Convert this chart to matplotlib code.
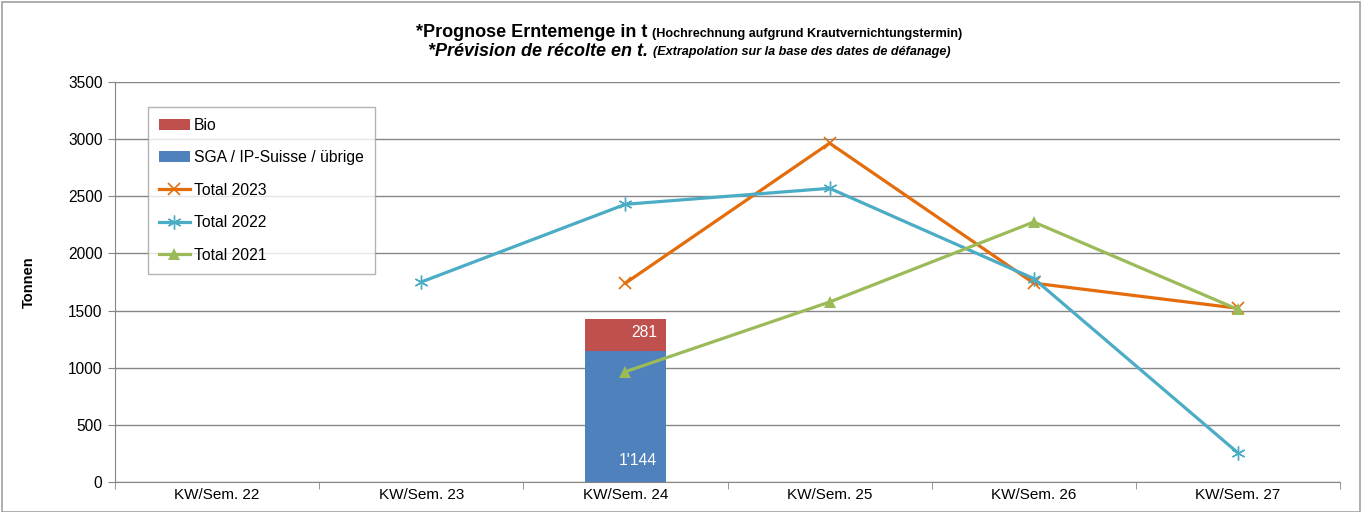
import matplotlib
matplotlib.use("Agg")
import matplotlib.pyplot as plt
import numpy as np
from matplotlib.patches import Rectangle
from matplotlib.ticker import FixedLocator

plt.rcParams['font.family'] = ['Liberation Sans', 'DejaVu Sans']

categories = ["KW/Sem. 22", "KW/Sem. 23", "KW/Sem. 24", "KW/Sem. 25", "KW/Sem. 26", "KW/Sem. 27"]
sga = [np.nan, np.nan, 1144, np.nan, np.nan, np.nan]
bio = [np.nan, np.nan, 281, np.nan, np.nan, np.nan]
total_2023 = [np.nan, np.nan, 1740, 2965, 1740, 1520]
total_2022 = [np.nan, 1750, 2430, 2570, 1780, 255]
total_2021 = [np.nan, np.nan, 965, 1575, 2275, 1510]
yticks = [0, 500, 1000, 1500, 2000, 2500, 3000, 3500]

c_bio = '#C0504D'
c_sga = '#4F81BD'
c_23 = '#E46C0A'
c_22 = '#4BACC6'
c_21 = '#9BBB59'
gray = '#868686'

fig = plt.figure(figsize=(13.63, 5.12), dpi=100)
ax = fig.add_axes([115/1363, 1-482/512, 1225/1363, 400/512])
x = np.arange(len(categories))

sga_v = np.nan_to_num(np.array(sga, dtype=float))
bio_v = np.nan_to_num(np.array(bio, dtype=float))
ax.bar(x, sga_v, width=0.4, color=c_sga, label='SGA / IP-Suisse / übrige', zorder=2)
ax.bar(x, bio_v, width=0.4, bottom=sga_v, color=c_bio, label='Bio', zorder=2)

for i in range(len(x)):
    if sga_v[i] > 0:
        ax.text(x[i] + 0.155, 190, f"{int(sga_v[i]):,}".replace(',', "'"), color='white',
                ha='right', va='center', fontsize=11.3, zorder=5)
    if bio_v[i] > 0:
        ax.text(x[i] + 0.155, sga_v[i] + bio_v[i] / 2 + 20, f"{int(bio_v[i])}", color='white',
                ha='right', va='center', fontsize=11.3, zorder=5)

ax.plot(x, total_2023, color=c_23, lw=2.3, marker='x', ms=9, mew=1.2, label='Total 2023', zorder=3)
ax.plot(x, total_2022, color=c_22, lw=2.3, marker=(6, 2, 0), ms=10, mew=1.0, label='Total 2022', zorder=3)
ax.plot(x, total_2021, color=c_21, lw=2.3, marker='^', ms=9, mew=0, label='Total 2021', zorder=4)

ax.set_xlim(-0.5, len(categories) - 0.5)
ax.set_ylim(0, 3500)
ax.set_yticks(yticks)
ax.set_xticks(x)
ax.set_xticklabels(categories, fontsize=11)
ax.xaxis.set_minor_locator(FixedLocator(np.arange(-0.5, len(categories) + 0.5, 1.0)))
ax.tick_params(axis='x', which='major', length=0, pad=4)
ax.tick_params(axis='x', which='minor', length=5, color=gray, direction='out')
ax.tick_params(axis='y', length=5, color=gray, labelsize=11.2, pad=4)
ax.yaxis.grid(True, color=gray, lw=1, zorder=0)
ax.set_axisbelow(True)
for s in ['top', 'right']:
    ax.spines[s].set_visible(False)
for s in ['left', 'bottom']:
    ax.spines[s].set_color(gray)
ax.set_ylabel('Tonnen', fontsize=10.5, fontweight='bold', labelpad=23)

handles, labels = ax.get_legend_handles_labels()
order = ['Bio', 'SGA / IP-Suisse / übrige', 'Total 2023', 'Total 2022', 'Total 2021']
hmap = dict(zip(labels, handles))
leg = ax.legend([hmap[k] for k in order], order, loc='upper left',
                bbox_to_anchor=((148-115)/1225, (482-107)/400), borderaxespad=0,
                fontsize=11.3, frameon=True, fancybox=False, edgecolor='#A0A0A0',
                labelspacing=1.12, handlelength=2.0, handletextpad=0.25, borderpad=0.68)
leg.get_frame().set_linewidth(1.0)

t1a = "*Prognose Erntemenge in t "
t1b = "(Hochrechnung aufgrund Krautvernichtungstermin)"
t2a = "*Prévision de récolte en t. "
t2b = "(Extrapolation sur la base des dates de défanage)"

r = fig.canvas.get_renderer()
def two_part(y, a, b, style, sa, sb):
    ta = fig.text(0, y, a, fontsize=sa, fontweight='bold', style=style, va='baseline')
    tb = fig.text(0, y, b, fontsize=sb, fontweight='bold', style=style, va='baseline')
    wa = ta.get_window_extent(r).width
    wb = tb.get_window_extent(r).width
    W = fig.get_figwidth() * fig.dpi
    x0 = 689 - (wa + wb) / 2
    ta.set_x(x0 / W)
    tb.set_x((x0 + wa) / W)

two_part(1-37/512, t1a, t1b, 'normal', 13.0, 9.1)
two_part(1-55.5/512, t2a, t2b, 'italic', 13.0, 9.1)

fig.patches.append(Rectangle((2/1363, 0), 1358/1363, 1 - 2/512, transform=fig.transFigure,
                             fill=False, edgecolor='#A0A0A0', lw=1.2))

fig.savefig('out.png', dpi=100)
